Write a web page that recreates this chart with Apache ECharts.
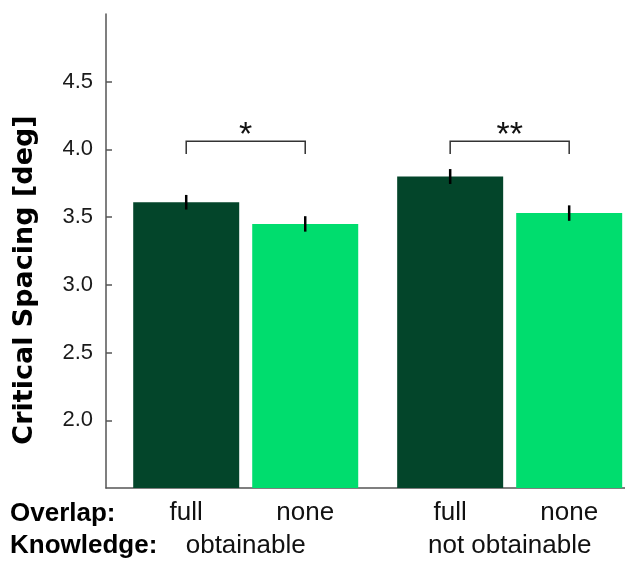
<!DOCTYPE html>
<html><head><meta charset="utf-8">
<script src="https://cdn.jsdelivr.net/npm/echarts@6/dist/echarts.min.js"></script>
<style>html,body{margin:0;padding:0;background:#fff}#c{width:625px;height:563px}</style>
</head><body><div id="c"></div>
<script>
// ---- data ----
const knowledge = ['obtainable', 'not obtainable'];
const overlap = ['full', 'none'];
const means = [3.61, 3.45, 3.80, 3.53];
const errors = [0.054, 0.057, 0.055, 0.057];
const yTicks = [2.0, 2.5, 3.0, 3.5, 4.0, 4.5];
const sigPairs = [[0, 1], [2, 3]];
const sigLabels = ['*', '**'];

// ---- layout / style constants ----
const DARK = '#03452a', LIGHT = '#00dd6e';
const GROUP_STEP = 2.218;
const BR_TOP = 4.06, BR_BOTTOM = 3.966, STAR_Y = 4.10;
const FONT = '"Liberation Sans", Arial, Helvetica, sans-serif';

const pos = (g, m) => g * GROUP_STEP + m;
const barPos = [];
const bars = [];
const errData = [];
knowledge.forEach((k, g) => overlap.forEach((o, m) => {
  const i = g * overlap.length + m;
  const x = pos(g, m);
  barPos.push(x);
  bars.push({ value: [x, means[i]], itemStyle: { color: m === 0 ? DARK : LIGHT } });
  errData.push([x, means[i], errors[i]]);
}));
const groupPos = knowledge.map((k, g) => (pos(g, 0) + pos(g, overlap.length - 1)) / 2);
const sigData = sigPairs.map((p, i) => [barPos[p[0]], barPos[p[1]], BR_TOP, i]);

const nearestIdx = (arr, v) => {
  let b = 0; arr.forEach((a, i) => { if (Math.abs(a - v) < Math.abs(arr[b] - v)) b = i; }); return b;
};

const chart = echarts.init(document.getElementById('c'), null, { renderer: 'canvas' });
chart.setOption({
  animation: false,
  grid: { left: 106, right: 0, top: 14, bottom: 75, containLabel: false, outerBoundsMode: 'none' },
  xAxis: [{
    type: 'value', min: -0.674, max: 3.687,
    axisLine: { show: true, onZero: false, lineStyle: { color: '#555', width: 1.5 } },
    axisTick: { show: false }, splitLine: { show: false },
    axisLabel: {
      customValues: barPos, margin: 12, fontSize: 26, fontFamily: FONT, color: '#111',
      formatter: v => overlap[nearestIdx(barPos, v) % overlap.length]
    }
  }, {
    type: 'value', min: -0.674, max: 3.687, position: 'bottom',
    axisLine: { show: false, onZero: false }, axisTick: { show: false }, splitLine: { show: false },
    axisLabel: {
      customValues: groupPos, margin: 45, fontSize: 26, fontFamily: FONT, color: '#111',
      formatter: v => knowledge[nearestIdx(groupPos, v)]
    }
  }],
  yAxis: {
    type: 'value', min: 1.5, max: 5.0, interval: 0.5,
    axisLine: { show: true, onZero: false, lineStyle: { color: '#555', width: 1.5 } },
    axisTick: { show: true, inside: true, length: 6, customValues: yTicks, lineStyle: { color: '#555', width: 1.5 } },
    axisLabel: { customValues: yTicks, margin: 13, fontSize: 22, fontFamily: FONT, color: '#1a1a1a',
      formatter: v => v.toFixed(1) },
    splitLine: { show: false },
    name: 'Critical Spacing [deg]', nameLocation: 'middle', nameGap: 68,
    nameTextStyle: { fontFamily: '"DejaVu Sans", sans-serif', fontWeight: 'bold', fontSize: 27, color: '#000',
      padding: [0, 58, 0, 0] }
  },
  graphic: [
    { type: 'text', left: 10, top: 501, style: { text: 'Overlap:', font: 'bold 26px ' + FONT, fill: '#000' } },
    { type: 'text', left: 10, top: 533, style: { text: 'Knowledge:', font: 'bold 26px ' + FONT, fill: '#000' } }
  ],
  series: [{
    type: 'bar', xAxisIndex: 0, barWidth: 106, data: bars, silent: true, z: 2
  }, {
    type: 'custom', xAxisIndex: 0, data: errData, silent: true, z: 5,
    encode: { x: 0, y: 1 },
    renderItem: (params, api) => {
      const x = api.value(0), y = api.value(1), e = api.value(2);
      const p1 = api.coord([x, y - e]), p2 = api.coord([x, y + e]);
      return { type: 'line', shape: { x1: p1[0], y1: p1[1], x2: p2[0], y2: p2[1] },
        style: { stroke: '#000', lineWidth: 2.5 } };
    }
  }, {
    type: 'custom', xAxisIndex: 0, data: sigData, silent: true, z: 5,
    encode: { x: [0, 1], y: 2 },
    renderItem: (params, api) => {
      const x1 = api.value(0), x2 = api.value(1), i = api.value(3);
      const a = api.coord([x1, BR_BOTTOM]), b = api.coord([x1, BR_TOP]);
      const c = api.coord([x2, BR_TOP]), d = api.coord([x2, BR_BOTTOM]);
      const s = api.coord([(x1 + x2) / 2, STAR_Y]);
      return { type: 'group', children: [
        { type: 'polyline', shape: { points: [a, b, c, d] },
          style: { stroke: '#333', lineWidth: 1.5, fill: null } },
        { type: 'text', x: s[0], y: s[1],
          style: { text: sigLabels[i], fontSize: 34, fontFamily: FONT, fill: '#111',
            align: 'center', verticalAlign: 'middle' } }
      ] };
    }
  }]
});
</script>
</body></html>
